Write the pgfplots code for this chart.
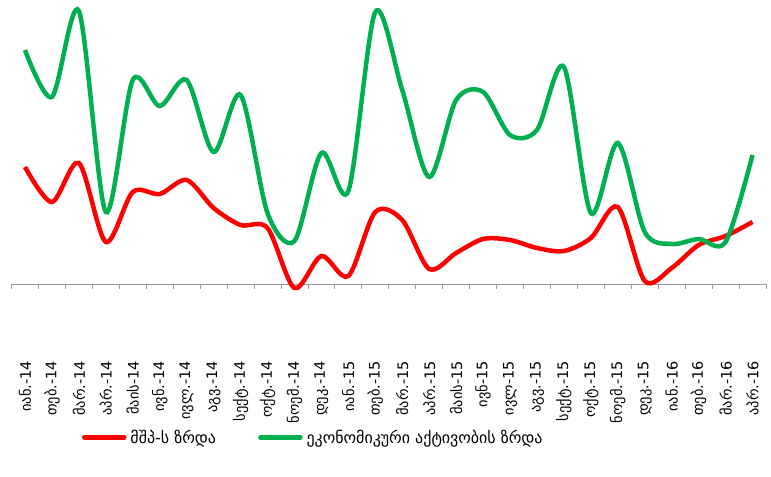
\documentclass[border=0pt]{standalone}
\usepackage{fontspec}
\setmainfont{DejaVu Sans}
\usepackage{pgfplots}
\pgfplotsset{compat=1.18}
\definecolor{gdpred}{HTML}{FF0000}
\definecolor{ecogreen}{HTML}{00B050}
\begin{document}
\begin{tikzpicture}
\useasboundingbox (0,0) rectangle (771bp,477bp);
\begin{axis}[
  at={(11.5bp,117bp)}, anchor=south west,
  width=754.5bp, height=352bp, scale only axis,
  xmin=-0.5, xmax=27.5, ymin=-76, ymax=276,
  clip=false,
  hide y axis,
  axis x line=bottom, x axis line style={draw=none},
  xtick={0,...,27}, major tick length=0pt,
  xticklabels={იან.-14,თებ.-14,მარ.-14,აპრ.-14,მაის-14,ივნ.-14,ივლ.-14,აგვ.-14,სექტ.-14,ოქტ.-14,ნოემ.-14,დეკ.-14,იან.-15,თებ.-15,მარ.-15,აპრ.-15,მაის-15,ივნ-15,ივლ-15,აგვ.-15,სექტ.-15,ოქტ.-15,ნოემ.-15,დეკ.-15,იან.-16,თებ.-16,მარ.-16,აპრ.-16},
  xticklabel style={rotate=90, anchor=east, font=\fontsize{14.5}{16}\selectfont, inner sep=1pt},
  legend columns=2,
  legend style={draw=none, fill=none, at={(0.4,-0.22)}, anchor=center,
    font=\fontsize{16}{18}\selectfont,
    /tikz/every odd column/.append style={column sep=2bp},
    /tikz/every even column/.append style={column sep=40bp}},
  legend image code/.code={\draw[#1, line width=4.5bp, line cap=round] (0bp,0bp) -- (40bp,0bp);},
]
\draw[gray!80, line width=0.8bp] (axis cs:-0.5,0) -- (axis cs:27.5,0);
\pgfplotsinvokeforeach{0,...,28}{
  \draw[gray!80, line width=0.8bp] (axis cs:#1-0.5,0) -- (axis cs:#1-0.5,-5);
}
\addplot[gdpred, line width=4.5bp, smooth, tension=0.5] coordinates {
(0,117)(1,82)(2,121)(3,42)(4,92)(5,90)(6,104)(7,76)(8,59)(9,56)
(10,-4)(11,28)(12,8)(13,72)(14,64)(15,15)(16,31)(17,45)(18,44)(19,36)
(20,33)(21,46)(22,77)(23,3)(24,16)(25,39)(26,48)(27,62)};
\addlegendentry{მშპ-ს ზრდა}
\addplot[ecogreen, line width=4.5bp, smooth, tension=0.5] coordinates {
(0,234)(1,187)(2,273)(3,72)(4,204)(5,178)(6,204)(7,132)(8,189)(9,71)
(10,43)(11,131)(12,93)(13,272)(14,194)(15,107)(16,184)(17,192)(18,149)(19,154)
(20,217)(21,71)(22,141)(23,52)(24,40)(25,45)(26,42)(27,129)};
\addlegendentry{ეკონომიკური აქტივობის ზრდა}
\end{axis}
\end{tikzpicture}
\end{document}
